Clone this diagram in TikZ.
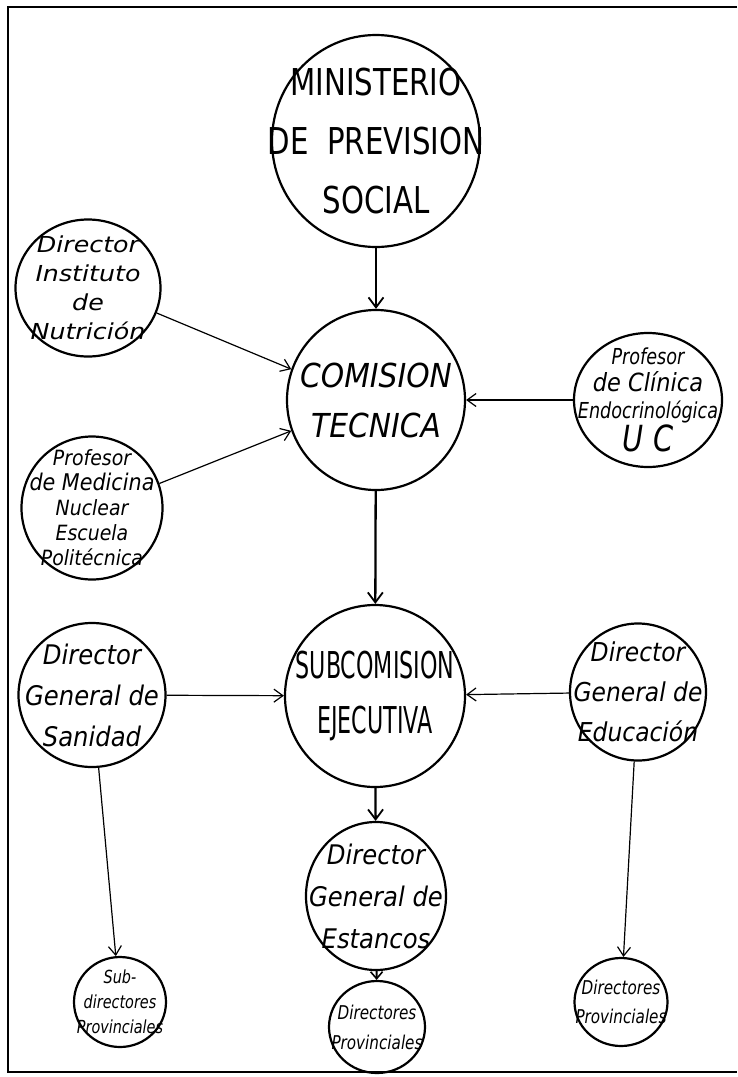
\documentclass[tikz,border=0pt]{standalone}
\usepackage{fontspec}
\usetikzlibrary{shapes.geometric,arrows.meta}
\newfontfamily\capsfont{DejaVu Sans}[FakeStretch=0.79]
\newfontfamily\subfont{DejaVu Sans}[FakeStretch=0.6]
\newfontfamily\handfont{DejaVu Sans}[FakeStretch=0.9]
\newfontfamily\handwide{DejaVu Sans}[FakeStretch=1.15]
\newfontfamily\handnarrow{DejaVu Sans}[FakeStretch=0.8]
\newcommand{\fs}[2]{\fontsize{#1}{#2}\selectfont}
\tikzset{
  circ/.style={draw, ellipse, line width=2.2pt, inner sep=0pt},
  txt/.style={inner sep=0pt, align=center},
  mainarrow/.style={-{Straight Barb[length=10pt,width=15pt,line width=1.8pt]}, line width=2.3pt},
  shortarrow/.style={-{Straight Barb[length=7pt,width=12pt,line width=1.6pt]}, line width=2pt},
  sidearrow/.style={-{Straight Barb[length=9pt,width=13pt,line width=1.2pt]}, line width=1.2pt},
  framestyle/.style={line width=2pt}
}
\begin{document}
\begin{tikzpicture}[x=1pt,y=-1pt]
\useasboundingbox (0,0) rectangle (737,1077);
\fill[white] (0,0) rectangle (737,1077);
\draw[framestyle] (737,7) -- (8,7) -- (8,1072) -- (737,1072);

% central column
\node[circ, minimum width=208pt, minimum height=212pt] (min) at (376,141) {};
\node[txt, font=\capsfont\fs{37}{59}] (minT) at (min.center)
  {MINISTERIO\\DE~~PREVISION\\SOCIAL};
\node[circ, minimum width=178pt, minimum height=180pt] (com) at (376,400) {};
\node[txt, font=\handfont\itshape\fs{33}{50}] (comT) at (com.center)
  {COMISION\\TECNICA};
\node[circ, minimum width=180pt, minimum height=182pt] (sub) at (375,696) {};
\node[txt, font=\subfont\fs{37}{55}] (subT) at (sub.center)
  {SUBCOMISION\\EJECUTIVA};
\node[circ, minimum width=140pt, minimum height=148pt] (est) at (376,896) {};
\node[txt, font=\handfont\itshape\fs{27}{42}] (estT) at (est.center)
  {Director\\General de\\Estancos};
\node[circ, minimum width=96pt, minimum height=92pt] (dpc) at (377,1027) {};
\node[txt, font=\handnarrow\itshape\fs{19}{30}] (dpcT) at (dpc.center)
  {Directores\\Provinciales};

% left column
\node[circ, minimum width=145pt, minimum height=137pt] (nut) at (88,288) {};
\node[txt, font=\handwide\itshape\fs{22}{29}] (nutT) at (nut.center)
  {Director\\Instituto\\de\\Nutrición};
\node[circ, minimum width=141pt, minimum height=143pt] (med) at (92,508) {};
\node[txt, font=\handfont\itshape\fs{21}{25}] (medT) at (med.center)
  {Profesor\\{\fs{23}{25}de Medicina}\\Nuclear\\Escuela\\Politécnica};
\node[circ, minimum width=147pt, minimum height=144pt] (san) at (92,695) {};
\node[txt, font=\handfont\itshape\fs{27}{41}] (sanT) at (san.center)
  {Director\\General de\\Sanidad};
\node[circ, minimum width=92pt, minimum height=90pt] (sdp) at (120,1002) {};
\node[txt, font=\handnarrow\itshape\fs{18}{25}] (sdpT) at (sdp.center)
  {Sub-\\directores\\Provinciales};

% right column
\node[circ, minimum width=148pt, minimum height=134pt] (cli) at (648,400) {};
\node[txt, font=\handnarrow\itshape\fs{22}{27}] (cliT) at (cli.center)
  {Profesor\\{\handfont\itshape\fs{25}{27}de Clínica}\\Endocrinológica\\{\fs{36}{36}U C}};
\node[circ, minimum width=136pt, minimum height=137pt] (edu) at (638,692) {};
\node[txt, font=\handfont\itshape\fs{26}{40}] (eduT) at (edu.center)
  {Director\\General de\\Educación};
\node[circ, minimum width=93pt, minimum height=88pt] (dpr) at (621,1002) {};
\node[txt, font=\handnarrow\itshape\fs{19}{29}] (dprT) at (dpr.center)
  {Directores\\Provinciales};

% connectors
\draw[mainarrow] (min) -- (com);
\draw[mainarrow] (com) -- (sub);
\draw[mainarrow] (sub) -- (est);
\draw[shortarrow] (est) -- (dpc);
\draw[sidearrow] (nut.-20) -- (com.160);
\draw[sidearrow] (med.20) -- (com.200);
\draw[sidearrow] (cli) -- (com);
\draw[sidearrow] (san) -- (sub);
\draw[sidearrow] (edu) -- (sub);
\draw[sidearrow] (san) -- (sdp);
\draw[sidearrow] (edu) -- (dpr);
\end{tikzpicture}
\end{document}
